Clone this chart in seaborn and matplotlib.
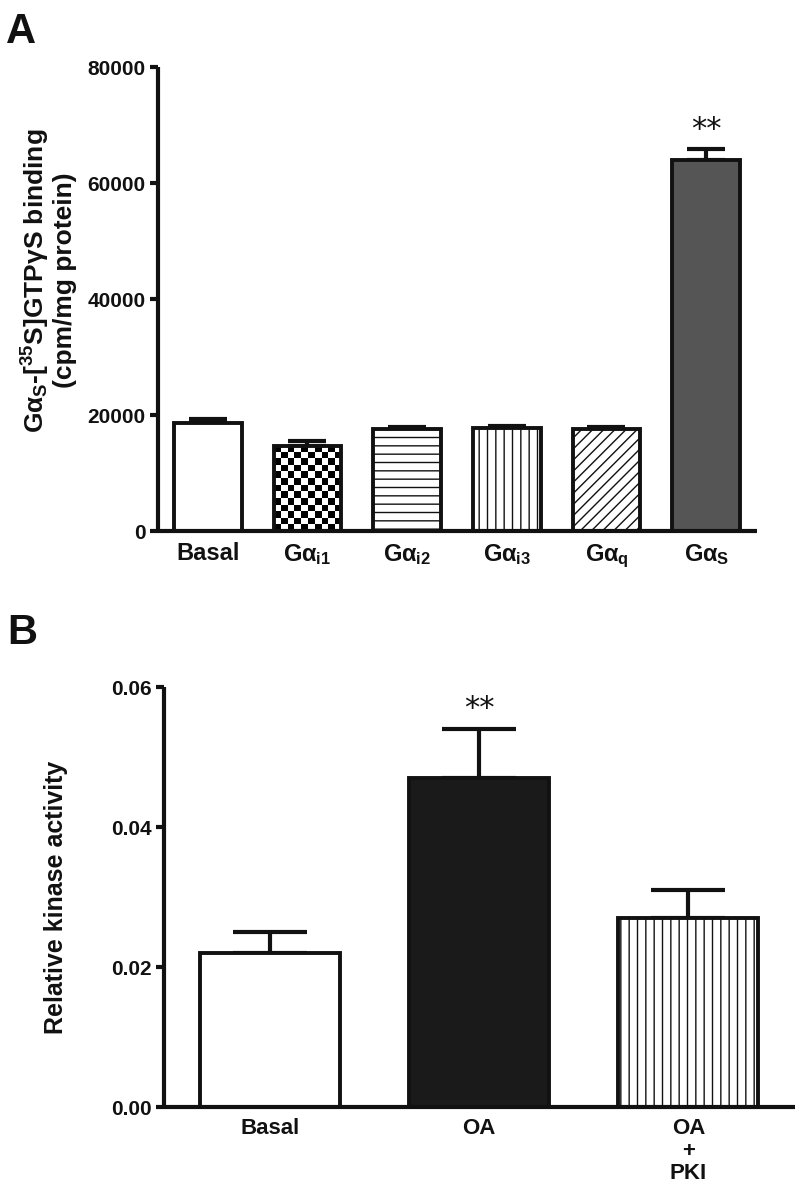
import numpy as np
import pandas as pd
import matplotlib
matplotlib.use('Agg')
import matplotlib.pyplot as plt
import seaborn as sns

# Panel A: G-protein binding
a_labels = ['Basal', r'G$\alpha_{\mathrm{i1}}$', r'G$\alpha_{\mathrm{i2}}$',
            r'G$\alpha_{\mathrm{i3}}$', r'G$\alpha_{\mathrm{q}}$', r'G$\alpha_{\mathrm{S}}$']
a_means = [18700, 14700, 17600, 17700, 17600, 63900]
a_errs = [650, 850, 400, 400, 400, 1950]
a_colors = ['white', 'none', 'white', 'white', 'white', '#555555']
a_hatches = ['', '', '--', '||', '///', '']
a_yticks = [0, 20000, 40000, 60000, 80000]

# Panel B: kinase activity
b_labels = ['Basal', 'OA', 'OA\n+\nPKI']
b_means = [0.022, 0.047, 0.027]
b_errs = [0.003, 0.007, 0.004]
b_colors = ['white', '#1a1a1a', 'white']
b_hatches = ['', '', '||']
b_yticks = [0.00, 0.02, 0.04, 0.06]

ink = '#111111'
sns.set_style('ticks')
plt.rcParams['font.family'] = ['Liberation Sans', 'DejaVu Sans']
plt.rcParams['font.weight'] = 'bold'
plt.rcParams['mathtext.fontset'] = 'custom'
plt.rcParams['mathtext.rm'] = 'Liberation Sans'
plt.rcParams['mathtext.it'] = 'Liberation Sans'
plt.rcParams['mathtext.bf'] = 'Liberation Sans:bold'
plt.rcParams['hatch.linewidth'] = 1.0
plt.rcParams['hatch.color'] = ink
plt.rcParams['text.color'] = ink
plt.rcParams['axes.labelcolor'] = ink
plt.rcParams['xtick.color'] = ink
plt.rcParams['ytick.color'] = ink

fig = plt.figure(figsize=(7.99, 11.99), dpi=100)
axA = fig.add_axes([0.1977, 0.5571, 0.7497, 0.3870])
axB = fig.add_axes([0.2053, 0.0767, 0.7897, 0.3503])


def style_axis(ax, xsize):
    sns.despine(ax=ax)
    for s in ['left', 'bottom']:
        ax.spines[s].set_linewidth(3.0)
        ax.spines[s].set_color(ink)
        ax.spines[s].set_capstyle('butt')
    ax.tick_params(axis='y', length=6, width=3, color=ink, labelsize=15, pad=3)
    ax.tick_params(axis='x', length=0, labelsize=xsize, pad=8)
    for t in ax.get_xticklabels() + ax.get_yticklabels():
        t.set_fontweight('bold')
    ax.set_xlabel('')


def draw_panel(ax, labels, means, errs, colors, hatches, width, capsize):
    df = pd.DataFrame({'group': labels, 'value': means})
    sns.barplot(data=df, x='group', y='value', order=labels, ax=ax, width=width,
                errorbar=None, color='white', edgecolor=ink, linewidth=2.8)
    bars = ax.patches[:len(labels)]
    for p, c, h in zip(bars, colors, hatches):
        p.set_facecolor(c)
        p.set_hatch(h)
        p.set_zorder(2)
    centers = [p.get_x() + p.get_width() / 2 for p in bars]
    # upper-only error bars
    ax.errorbar(centers, means, yerr=[np.zeros(len(means)), errs], fmt='none',
                ecolor=ink, elinewidth=3, capsize=capsize, capthick=3, zorder=1)
    return bars, centers


# ---- Panel A ----
barsA, centersA = draw_panel(axA, a_labels, a_means, a_errs, a_colors, a_hatches, 0.68, 13.5)
# checkerboard fill for G alpha i1
p = barsA[1]
ncol = 10
nrow = int(round(p.get_height() / 1150))
checker = (np.add.outer(np.arange(nrow), np.arange(ncol)) % 2).astype(float)
im = axA.imshow(checker, cmap='gray', interpolation='nearest', aspect='auto',
                extent=[p.get_x(), p.get_x() + p.get_width(), 0, p.get_height()],
                zorder=1.5, vmin=0, vmax=1)
im.set_clip_path(p)
axA.set_xlim(-0.5, 5.51)
axA.set_ylim(0, 80000)
axA.set_yticks(a_yticks)
axA.set_yticklabels([str(v) for v in a_yticks])
style_axis(axA, 17)
axA.set_ylabel(r'G$\alpha_{\mathrm{S}}$-[$^{\mathrm{35}}$S]GTP$\gamma$S binding' + '\n(cpm/mg protein)',
               fontsize=19, fontweight='bold', linespacing=1.05)
axA.yaxis.set_label_coords(-0.135, 0.54)
axA.text(centersA[5], a_means[5] + a_errs[5] + 900, '**', ha='center', va='bottom',
         fontsize=22, fontweight='normal', family='DejaVu Sans')

# ---- Panel B ----
barsB, centersB = draw_panel(axB, b_labels, b_means, b_errs, b_colors, b_hatches, 0.67, 26.5)
axB.set_xlim(-0.507, 2.51)
axB.set_ylim(0, 0.06)
axB.set_yticks(b_yticks)
axB.set_yticklabels(['%.2f' % v for v in b_yticks])
style_axis(axB, 16)
for t in axB.get_xticklabels():
    t.set_linespacing(1.1)
axB.set_ylabel('Relative kinase activity', fontsize=18, fontweight='bold')
axB.yaxis.set_label_coords(-0.152, 0.50)
axB.text(centersB[1], b_means[1] + b_errs[1] + 0.0009, '**', ha='center', va='bottom',
         fontsize=22, fontweight='normal', family='DejaVu Sans')

fig.text(0.007, 0.990, 'A', fontsize=30, fontweight='bold', va='top')
fig.text(0.009, 0.489, 'B', fontsize=30, fontweight='bold', va='top')

fig.savefig('out.png', dpi=100)
